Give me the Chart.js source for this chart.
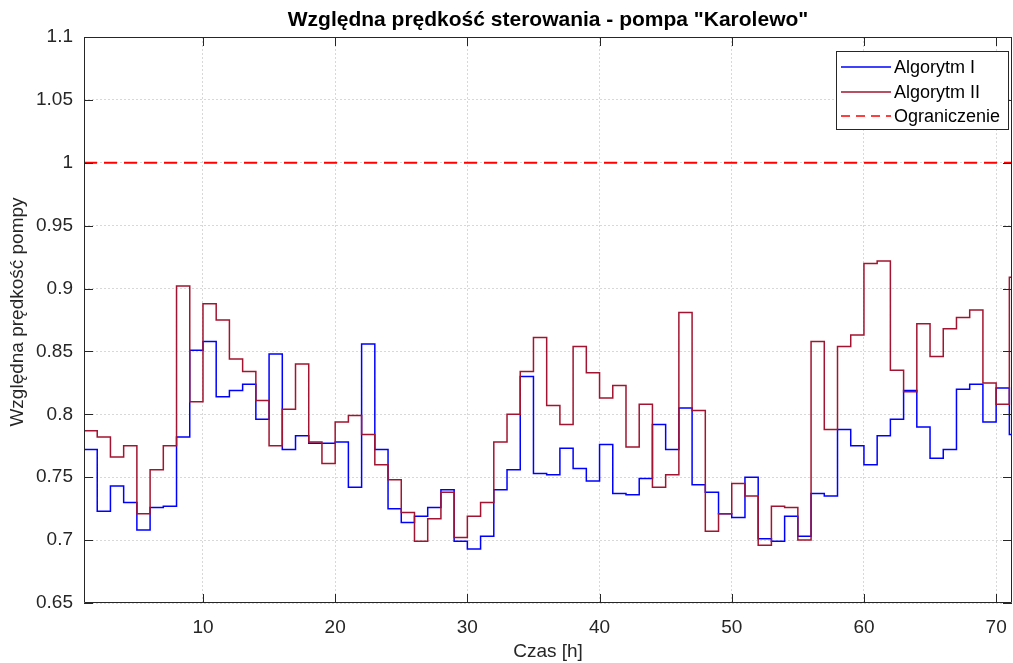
<!DOCTYPE html>
<html>
<head>
<meta charset="utf-8">
<script src="https://cdn.jsdelivr.net/npm/chart.js@4.4.1/dist/chart.umd.min.js"></script>
<style>
  html, body { margin: 0; padding: 0; background: #fff; }
</style>
</head>
<body>
<canvas id="karolewo" width="1013" height="663"></canvas>
<script>
// time steps (hours), last one only closes the final stair
const hours = [1, 2, 3, 4, 5, 6, 7, 8, 9, 10, 11, 12, 13, 14, 15, 16, 17, 18, 19, 20,
  21, 22, 23, 24, 25, 26, 27, 28, 29, 30, 31, 32, 33, 34, 35, 36, 37, 38, 39, 40,
  41, 42, 43, 44, 45, 46, 47, 48, 49, 50, 51, 52, 53, 54, 55, 56, 57, 58, 59, 60,
  61, 62, 63, 64, 65, 66, 67, 68, 69, 70, 71, 72];

const algorithm1 = [0.772, 0.723, 0.743, 0.730, 0.708, 0.726, 0.727, 0.782, 0.851, 0.858,
  0.814, 0.819, 0.824, 0.796, 0.848, 0.772, 0.783, 0.777, 0.777, 0.778,
  0.742, 0.856, 0.772, 0.725, 0.714, 0.719, 0.726, 0.740, 0.699, 0.693,
  0.703, 0.740, 0.756, 0.830, 0.753, 0.752, 0.773, 0.757, 0.747, 0.776,
  0.737, 0.736, 0.749, 0.792, 0.772, 0.805, 0.744, 0.738, 0.721, 0.718,
  0.750, 0.701, 0.699, 0.719, 0.703, 0.737, 0.735, 0.788, 0.775, 0.760,
  0.783, 0.796, 0.819, 0.790, 0.765, 0.772, 0.820, 0.824, 0.794, 0.821, 0.784];

const algorithm2 = [0.787, 0.782, 0.766, 0.775, 0.721, 0.756, 0.775, 0.902, 0.810, 0.888,
  0.875, 0.844, 0.834, 0.811, 0.775, 0.804, 0.840, 0.778, 0.761, 0.794,
  0.799, 0.784, 0.760, 0.748, 0.722, 0.699, 0.717, 0.738, 0.702, 0.719,
  0.730, 0.778, 0.800, 0.834, 0.861, 0.807, 0.792, 0.854, 0.833, 0.813,
  0.823, 0.774, 0.808, 0.742, 0.752, 0.881, 0.803, 0.707, 0.721, 0.745,
  0.735, 0.696, 0.727, 0.726, 0.700, 0.858, 0.788, 0.854, 0.863, 0.920,
  0.922, 0.835, 0.818, 0.872, 0.846, 0.868, 0.877, 0.883, 0.825, 0.808, 0.909];

const limitValue = 1;
const xTicks = [10, 20, 30, 40, 50, 60, 70];
const yTicks = [0.65, 0.7, 0.75, 0.8, 0.85, 0.9, 0.95, 1, 1.05, 1.1];

const FONT = "'Liberation Sans', Arial, Helvetica, sans-serif";
const TEXT = "#262626";

function stairs(values) {
  return hours.map((h, i) => ({ x: h, y: values[Math.min(i, values.length - 1)] }));
}

// box with inward ticks on all four sides, like matlab axes
const axesBox = {
  id: "axesBox",
  afterDatasetsDraw(chart) {
    const { ctx, chartArea: a, scales } = chart;
    const len = 9;
    ctx.save();
    ctx.strokeStyle = TEXT;
    ctx.lineWidth = 1;
    ctx.beginPath();
    ctx.rect(a.left + 0.5, a.top + 0.5, a.right - a.left - 1, a.bottom - a.top - 1);
    for (const v of xTicks) {
      const px = Math.round(scales.x.getPixelForValue(v)) + 0.5;
      ctx.moveTo(px, a.bottom); ctx.lineTo(px, a.bottom - len);
      ctx.moveTo(px, a.top); ctx.lineTo(px, a.top + len);
    }
    for (const v of yTicks) {
      const py = Math.round(scales.y.getPixelForValue(v)) + 0.5;
      ctx.moveTo(a.left, py); ctx.lineTo(a.left + len, py);
      ctx.moveTo(a.right, py); ctx.lineTo(a.right - len, py);
    }
    ctx.stroke();
    ctx.restore();
  },
  afterDraw(chart) {
    const { ctx, chartArea: a } = chart;
    ctx.save();
    // title centred over the axes, not the canvas
    ctx.fillStyle = "#000";
    ctx.font = "bold 21px " + FONT;
    ctx.textAlign = "center";
    ctx.textBaseline = "middle";
    ctx.fillText('Względna prędkość sterowania - pompa "Karolewo"', (a.left + a.right) / 2, 20);

    // y axis label
    ctx.fillStyle = TEXT;
    ctx.font = "19px " + FONT;
    ctx.translate(18, 312);
    ctx.rotate(-Math.PI / 2);
    ctx.fillText("Względna prędkość pompy", 0, 0);
    ctx.setTransform(1, 0, 0, 1, 0, 0);

    // legend box in the upper right corner
    const x0 = 836, y0 = 51, w = 172, h = 78;
    ctx.fillStyle = "#fff";
    ctx.fillRect(x0, y0, w, h);
    ctx.strokeStyle = TEXT;
    ctx.lineWidth = 1;
    ctx.strokeRect(x0 + 0.5, y0 + 0.5, w, h);
    ctx.font = "18px " + FONT;
    ctx.textAlign = "left";
    ctx.fillStyle = "#000";
    const rows = [67, 92, 116];
    chart.data.datasets.forEach((ds, i) => {
      const y = rows[i];
      ctx.beginPath();
      ctx.strokeStyle = ds.borderColor;
      ctx.lineWidth = 1.5;
      ctx.setLineDash(i === 2 ? [9, 6] : []);
      ctx.moveTo(841, y);
      ctx.lineTo(891, y);
      ctx.stroke();
      ctx.setLineDash([]);
      ctx.fillText(ds.label, 894, y + 1);
    });
    ctx.restore();
  },
};

const config = {
  type: "line",
  data: {
    datasets: [
      {
        label: "Algorytm I",
        data: stairs(algorithm1),
        borderColor: "#0000ff",
        borderWidth: 1.5,
        stepped: "before",
        pointRadius: 0,
        order: 2,
      },
      {
        label: "Algorytm II",
        data: stairs(algorithm2),
        borderColor: "#a2142f",
        borderWidth: 1.5,
        stepped: "before",
        pointRadius: 0,
        order: 1,
      },
      {
        label: "Ograniczenie",
        data: [{ x: hours[0], y: limitValue }, { x: hours[hours.length - 1], y: limitValue }],
        borderColor: "#ff0000",
        borderWidth: 2,
        borderDash: [13, 7],
        pointRadius: 0,
        order: 0,
      },
    ],
  },
  options: {
    responsive: false,
    animation: false,
    layout: { padding: { left: 0, right: 1, top: 37, bottom: 0 } },
    plugins: {
      legend: { display: false },
      tooltip: { enabled: false },
      title: { display: false },
    },
    scales: {
      x: {
        type: "linear",
        min: 1,
        max: 71.2,
        afterBuildTicks: (s) => { s.ticks = xTicks.map((v) => ({ value: v })); },
        afterFit: (s) => { s.height = 60; s.paddingLeft = 0; s.paddingRight = 0; },
        grid: { color: "rgba(38,38,38,0.18)", drawTicks: false },
        border: { display: false, dash: [2, 2] },
        ticks: {
          padding: 13,
          color: TEXT,
          maxRotation: 0,
          font: { family: FONT, size: 19 },
          callback: (v) => String(v),
        },
        title: {
          display: true,
          text: "Czas [h]",
          color: TEXT,
          font: { family: FONT, size: 19 },
          padding: { top: 0, bottom: 0 },
        },
      },
      y: {
        min: 0.65,
        max: 1.1,
        afterBuildTicks: (s) => { s.ticks = yTicks.map((v) => ({ value: v })); },
        afterFit: (s) => { s.width = 84; s.paddingTop = 0; s.paddingBottom = 0; },
        grid: { color: "rgba(38,38,38,0.18)", drawTicks: false },
        border: { display: false, dash: [2, 2] },
        ticks: {
          padding: 11,
          color: TEXT,
          font: { family: FONT, size: 19 },
          callback: (v) => String(v),
        },
      },
    },
  },
  plugins: [axesBox],
};

const karolewoChart = new Chart(document.getElementById("karolewo"), config);
</script>
</body>
</html>
